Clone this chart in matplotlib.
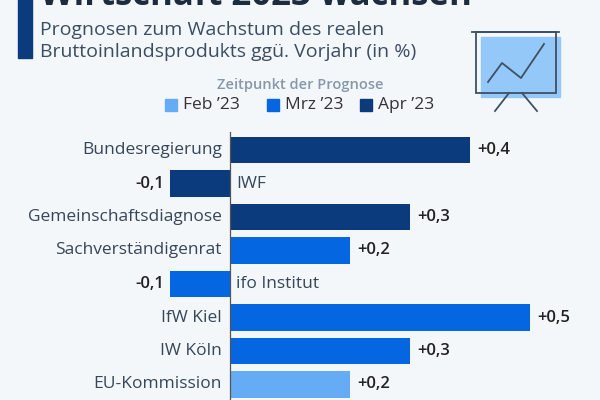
import matplotlib.pyplot as plt
from matplotlib.patches import Rectangle

# data
categories = ["Bundesregierung", "IWF", "Gemeinschaftsdiagnose", "Sachverständigenrat",
              "ifo Institut", "IfW Kiel", "IW Köln", "EU-Kommission"]
values = [0.4, -0.1, 0.3, 0.2, -0.1, 0.5, 0.3, 0.2]
months = ["Apr", "Apr", "Apr", "Mrz", "Mrz", "Mrz", "Mrz", "Feb"]

legend_labels = ["Feb ’23", "Mrz ’23", "Apr ’23"]
legend_keys = ["Feb", "Mrz", "Apr"]

colors = {"Feb": "#66acf5", "Mrz": "#0466e0", "Apr": "#0b3a7d"}
bg = "#f4f7f9"

plt.rcParams['font.family'] = ['Open Sans', 'DejaVu Sans']

fig = plt.figure(figsize=(6, 4), dpi=100, facecolor=bg)

# overlay in pixel coordinates for header decoration
ov = fig.add_axes([0, 0, 1, 1])
ov.set_xlim(0, 600)
ov.set_ylim(400, 0)
ov.axis('off')
ov.set_facecolor('none')

ov.add_patch(Rectangle((18, -5), 14, 63, color="#0b3a7d"))
ov.text(40, 5, "Wirtschaft 2023 wachsen", fontsize=25, fontweight='bold',
        color="#1c2b3e", va='baseline', ha='left')
ov.text(40, 35, "Prognosen zum Wachstum des realen", fontsize=14,
        color="#3b4d63", va='baseline', ha='left')
ov.text(40, 57, "Bruttoinlandsprodukts ggü. Vorjahr (in %)", fontsize=14,
        color="#3b4d63", va='baseline', ha='left')

# legend
ov.text(300, 85, "Zeitpunkt der Prognose", fontsize=10.5, fontweight='semibold',
        color="#8597ab", ha='center', va='center')
sq_x = [165, 267, 360]
for sx, key, lab in zip(sq_x, legend_keys, legend_labels):
    ov.add_patch(Rectangle((sx, 99), 12, 12, color=colors[key]))
    ov.text(sx + 18, 105, lab, fontsize=12.5, color="#333333", ha='left', va='center')

# icon
ov.add_patch(Rectangle((481, 37), 79, 60, color="#94c8f8"))
ov.add_patch(Rectangle((476, 32), 80, 61, fill=False, ec="#3e5064", lw=1.3))
ov.plot([472, 559], [32, 32], color="#3e5064", lw=1.3)
ov.plot([509, 495], [93, 111], color="#3e5064", lw=1.3)
ov.plot([522, 537], [93, 111], color="#3e5064", lw=1.3)
ov.plot([488, 502, 521, 544], [82, 63, 78, 44], color="#3e5064", lw=1.3)

# bar chart
ax = fig.add_axes([170 / 600, -1.25 / 400, 360 / 600, 268 / 400])
ax.set_facecolor('none')
ax.set_xlim(-0.1, 0.5)
ax.set_ylim(7.5, -0.5)
ax.axis('off')

ypos = list(range(len(categories)))
ax.barh(ypos, values, height=0.79, color=[colors[m] for m in months])
ax.plot([0, 0], [-0.55, 7.55], color="#555555", lw=0.9, clip_on=False)

for y, v, c in zip(ypos, values, categories):
    lab = ("+" if v > 0 else "-") + "0," + str(int(round(abs(v) * 10)))
    if v >= 0:
        ax.annotate(lab, (v, y), xytext=(5, 0), textcoords='offset points',
                    ha='left', va='center', fontsize=12, fontweight='semibold',
                    color="#222222")
        ax.annotate(c, (0, y), xytext=(-6, 0), textcoords='offset points',
                    ha='right', va='center', fontsize=12.5, color="#36465a")
    else:
        ax.annotate(lab, (v, y), xytext=(-4.5, 0), textcoords='offset points',
                    ha='right', va='center', fontsize=12, fontweight='semibold',
                    color="#222222")
        ax.annotate(c, (0, y), xytext=(4.5, 0), textcoords='offset points',
                    ha='left', va='center', fontsize=12.5, color="#36465a")

fig.savefig("out.png", dpi=100, facecolor=bg)
